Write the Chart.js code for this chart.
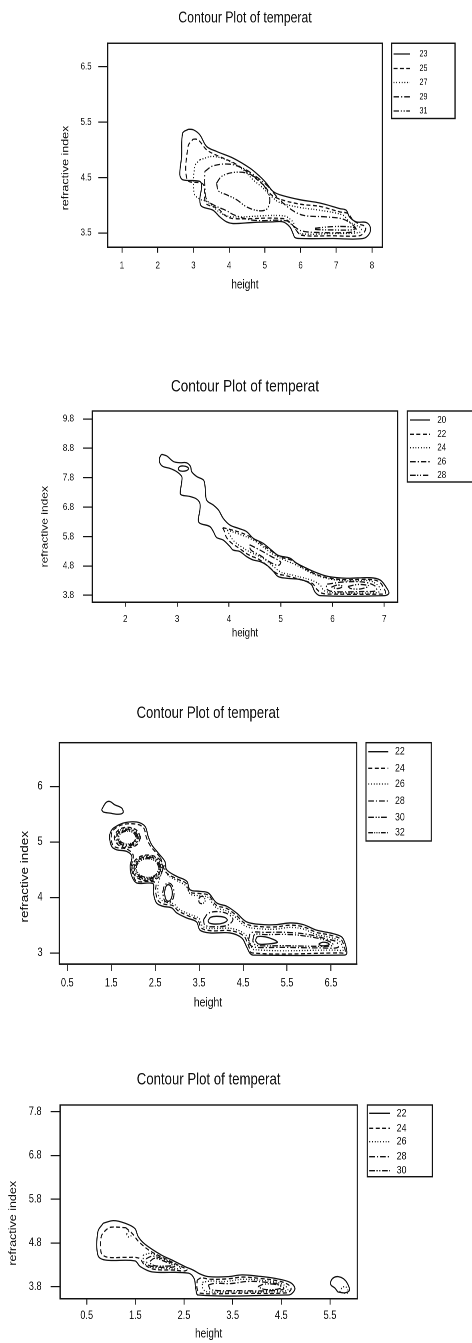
<!DOCTYPE html>
<html>
<head>
<meta charset="utf-8">
<script src="https://cdn.jsdelivr.net/npm/chart.js@4.4.1/dist/chart.umd.min.js"></script>
<style>
html, body { margin: 0; padding: 0; background: #fff; width: 472px; height: 1343px; overflow: hidden; }
.panel { position: absolute; left: 0; transform: scaleX(0.8); transform-origin: 0 0; }
.panel canvas { display: block; }
</style>
</head>
<body>
<div class="panel" style="top:0px"><canvas id="c1" width="590" height="320"></canvas></div>
<div class="panel" style="top:320px"><canvas id="c2" width="590" height="325"></canvas></div>
<div class="panel" style="top:645px"><canvas id="c3" width="590" height="370"></canvas></div>
<div class="panel" style="top:1015px"><canvas id="c4" width="590" height="328"></canvas></div>
<script>
// ---- panel 1 ----
const p1Levels = [23, 25, 27, 29, 31];
const p1XTicks = [1, 2, 3, 4, 5, 6, 7, 8];
const p1YTicks = [3.5, 4.5, 5.5, 6.5];
const p1C23 = [[[2.86,5.37],[3.0,5.36],[3.18,5.27],[3.37,5.06],[3.65,4.97],[4.11,4.85],[4.58,4.67],[4.86,4.52],[5.04,4.40],[5.23,4.25],[5.42,4.19],[5.98,4.10],[6.54,4.04],[7.10,3.94],[7.28,3.91],[7.37,3.79],[7.56,3.70],[7.84,3.69],[7.95,3.61],[7.93,3.49],[7.75,3.40],[6.91,3.40],[5.98,3.40],[5.84,3.42],[5.79,3.49],[5.70,3.61],[5.51,3.70],[5.23,3.70],[4.67,3.69],[4.11,3.67],[3.93,3.70],[3.74,3.79],[3.55,3.91],[3.23,3.98],[3.18,4.10],[3.23,4.34],[3.18,4.43],[2.70,4.46],[2.62,4.55],[2.67,4.88],[2.70,5.30]]];
const p1C25 = [[[2.99,5.19],[3.09,5.19],[3.18,5.15],[3.37,5.0],[3.65,4.90],[4.11,4.77],[4.49,4.61],[4.77,4.47],[5.0,4.34],[5.18,4.19],[5.42,4.11],[5.98,4.02],[6.54,3.98],[7.10,3.88],[7.33,3.85],[7.47,3.73],[7.65,3.66],[7.82,3.61],[7.79,3.52],[7.65,3.45],[6.91,3.45],[6.02,3.46],[5.88,3.55],[5.74,3.67],[5.51,3.76],[4.11,3.76],[3.88,3.82],[3.69,3.94],[3.37,4.02],[3.32,4.10],[3.27,4.38],[2.83,4.46],[2.85,5.06]]];
const p1C27 = [[[3.18,4.82],[3.55,4.88],[4.02,4.79],[4.39,4.64],[4.67,4.46],[4.95,4.31],[5.18,4.16],[5.42,4.05],[5.98,3.96],[6.54,3.91],[7.19,3.82],[7.37,3.70],[7.56,3.64],[7.70,3.58],[7.65,3.51],[6.91,3.49],[5.98,3.49],[5.85,3.58],[5.79,3.70],[5.51,3.81],[4.11,3.79],[3.79,3.85],[3.37,4.07],[3.18,4.11],[3.02,4.22],[3.04,4.70]]];
const p1C29 = [[[3.32,4.61],[3.55,4.71],[4.02,4.74],[4.44,4.65],[4.81,4.49],[5.09,4.34],[5.37,4.13],[5.70,3.94],[6.07,3.82],[6.72,3.79],[7.19,3.75],[7.47,3.64],[7.56,3.55],[7.37,3.51],[6.44,3.51],[6.02,3.54],[5.79,3.63],[5.60,3.72],[4.67,3.73],[4.16,3.82],[3.93,3.90],[3.55,4.01],[3.37,4.10],[3.32,4.34]]];
const p1C31 = [
  [[3.65,4.40],[3.79,4.52],[4.11,4.59],[4.49,4.58],[4.80,4.47],[5.0,4.33],[5.14,4.12],[5.07,3.94],[4.85,3.90],[4.49,3.97],[4.21,4.10],[3.93,4.19],[3.70,4.26]],
  [[6.4,3.585],[6.9,3.615],[7.4,3.61],[7.55,3.58],[7.4,3.555],[6.9,3.555],[6.4,3.565]]
];

// ---- panel 2 ----
const p2Levels = [20, 22, 24, 26, 28];
const p2XTicks = [2, 3, 4, 5, 6, 7];
const p2YTicks = [3.8, 4.8, 5.8, 6.8, 7.8, 8.8, 9.8];
const p2C20 = [
  [[2.70,8.60],[2.80,8.54],[2.93,8.35],[3.06,8.31],[3.18,8.31],[3.26,8.18],[3.28,8.01],[3.38,7.84],[3.51,7.72],[3.54,7.50],[3.57,7.04],[3.70,6.87],[3.80,6.70],[3.89,6.42],[4.02,6.19],[4.18,6.08],[4.34,5.97],[4.47,5.74],[4.66,5.57],[4.82,5.34],[4.95,5.16],[5.18,5.06],[5.31,4.89],[5.50,4.72],[5.69,4.57],[5.92,4.44],[6.27,4.38],[6.72,4.40],[6.92,4.32],[7.05,4.04],[7.09,3.87],[7.01,3.79],[5.76,3.79],[5.66,3.92],[5.60,4.15],[5.50,4.27],[5.37,4.34],[5.11,4.38],[4.95,4.44],[4.86,4.61],[4.73,4.83],[4.60,4.95],[4.47,5.00],[4.34,5.12],[4.21,5.29],[4.08,5.34],[4.02,5.46],[3.89,5.68],[3.76,5.77],[3.70,5.97],[3.63,6.14],[3.44,6.25],[3.41,6.36],[3.44,6.70],[3.44,6.93],[3.38,7.07],[3.25,7.16],[3.09,7.21],[3.06,7.27],[3.09,7.67],[3.09,7.84],[2.99,8.01],[2.86,8.12],[2.73,8.18],[2.67,8.29],[2.66,8.46]],
  [[3.02,8.11],[3.05,8.18],[3.12,8.20],[3.19,8.17],[3.22,8.11],[3.18,8.04],[3.10,8.02],[3.04,8.05]]
];
const p2C22 = [[[3.88,6.10],[4.0,6.05],[4.2,5.95],[4.4,5.80],[4.6,5.58],[4.8,5.33],[5.0,5.10],[5.2,5.00],[5.4,4.78],[5.7,4.50],[6.0,4.37],[6.3,4.33],[6.7,4.34],[6.9,4.26],[7.0,4.02],[7.02,3.87],[6.9,3.84],[6.0,3.84],[5.8,3.87],[5.7,4.0],[5.62,4.19],[5.45,4.30],[5.1,4.47],[4.93,4.54],[4.8,4.72],[4.6,5.0],[4.38,5.18],[4.2,5.40],[4.05,5.58],[3.95,5.78],[3.92,5.95]]];
const p2C24 = [[[3.97,6.02],[4.2,5.88],[4.45,5.70],[4.65,5.46],[4.85,5.2],[5.05,5.02],[5.3,4.83],[5.6,4.55],[5.9,4.37],[6.3,4.29],[6.7,4.30],[6.85,4.18],[6.93,3.98],[6.85,3.89],[6.0,3.89],[5.84,3.96],[5.76,4.15],[5.6,4.31],[5.2,4.50],[5.0,4.59],[4.85,4.80],[4.65,5.07],[4.42,5.26],[4.25,5.44],[4.1,5.64],[4.02,5.84]]];
const p2C26 = [
  [[4.40,5.52],[4.6,5.34],[4.82,5.12],[5.0,4.93],[4.96,4.82],[4.82,4.9],[4.62,5.14],[4.42,5.35]],
  [[5.9,4.18],[6.2,4.25],[6.6,4.25],[6.82,4.12],[6.85,3.96],[6.6,3.93],[6.0,3.93],[5.88,4.03]]
];
const p2C28 = [
  [[6.3,4.1],[6.5,4.17],[6.7,4.12],[6.55,4.02],[6.35,4.03]],
  [[5.98,4.08],[6.1,4.15],[6.2,4.1],[6.1,4.03]]
];

// ---- panel 3 ----
const p3Levels = [22, 24, 26, 28, 30, 32];
const p3XTicks = [0.5, 1.5, 2.5, 3.5, 4.5, 5.5, 6.5];
const p3YTicks = [3, 4, 5, 6];
const p3C22 = [
  [[1.28,5.58],[1.38,5.71],[1.47,5.73],[1.58,5.67],[1.74,5.61],[1.77,5.53],[1.66,5.50],[1.47,5.52],[1.32,5.54]],
  [[1.49,5.19],[1.55,5.25],[1.77,5.34],[2.08,5.36],[2.27,5.28],[2.34,5.10],[2.42,4.95],[2.57,4.80],[2.72,4.65],[2.76,4.50],[2.99,4.38],[3.22,4.29],[3.29,4.14],[3.52,4.11],[3.71,4.08],[3.90,3.90],[4.13,3.84],[4.35,3.72],[4.58,3.56],[4.96,3.51],[5.26,3.51],[5.57,3.54],[5.87,3.51],[6.17,3.41],[6.48,3.36],[6.74,3.29],[6.82,3.17],[6.86,2.99],[6.80,2.96],[4.73,2.96],[4.66,2.99],[4.58,3.11],[4.47,3.27],[4.20,3.36],[3.75,3.36],[3.52,3.41],[3.44,3.56],[3.22,3.63],[2.99,3.72],[2.88,3.81],[2.68,3.84],[2.53,3.90],[2.46,4.08],[2.46,4.24],[2.34,4.26],[2.08,4.26],[1.97,4.38],[1.93,4.56],[1.97,4.74],[1.85,4.83],[1.62,4.86],[1.51,4.92],[1.46,5.10]],
  [[2.71,4.08],[2.74,4.19],[2.80,4.23],[2.86,4.19],[2.89,4.08],[2.86,3.97],[2.80,3.93],[2.74,3.97]],
  [[3.7,3.58],[3.76,3.64],[3.9,3.66],[4.08,3.64],[4.14,3.59],[4.05,3.54],[3.88,3.52],[3.73,3.54]],
  [[4.78,3.22],[4.82,3.29],[5.0,3.29],[5.2,3.24],[5.28,3.19],[5.05,3.16],[4.85,3.16]],
  [[6.22,3.16],[6.3,3.19],[6.42,3.18],[6.46,3.15],[6.38,3.13],[6.27,3.13]]
];
const p3C24 = [
  [[2.62,4.72],[2.74,4.46],[2.98,4.34],[3.21,4.25],[3.28,4.10],[3.52,4.07],[3.71,4.04],[3.89,3.86],[4.13,3.80],[4.34,3.68],[4.57,3.52],[4.96,3.47],[5.26,3.47],[5.57,3.50],[5.87,3.47],[6.17,3.37],[6.48,3.32],[6.72,3.25],[6.79,3.14],[6.82,3.01],[6.7,3.0],[4.70,3.0],[4.62,3.14],[4.51,3.31],[4.22,3.40],[3.77,3.40],[3.55,3.45],[3.47,3.59],[3.25,3.67],[3.02,3.76],[2.91,3.85],[2.70,3.88],[2.57,3.94],[2.51,4.10],[2.51,4.26],[2.36,4.29],[2.08,4.29],[2.0,4.40],[1.96,4.56],[2.0,4.76],[1.86,4.87],[1.62,4.90],[1.53,4.95],[1.50,5.10],[1.53,5.20],[1.75,5.31],[2.08,5.32],[2.24,5.25],[2.30,5.08],[2.39,4.93],[2.53,4.80]],
  [[2.17,5.08],[2.082,5.211],[1.87,5.265],[1.658,5.211],[1.57,5.08],[1.658,4.949],[1.87,4.895],[2.082,4.949]],
  [[2.69,4.53],[2.585,4.696],[2.33,4.765],[2.075,4.696],[1.97,4.53],[2.075,4.364],[2.33,4.30],[2.585,4.364]]
];
const p3C26 = [
  [[2.70,4.58],[2.77,4.42],[3.0,4.30],[3.2,4.21],[3.30,4.06],[3.52,4.03],[3.70,4.00],[3.88,3.82],[4.12,3.76],[4.33,3.64],[4.56,3.48],[4.96,3.43],[5.26,3.43],[5.57,3.46],[5.87,3.43],[6.17,3.33],[6.48,3.28],[6.68,3.22],[6.76,3.12],[6.78,3.05],[6.6,3.05],[4.74,3.06],[4.66,3.18],[4.54,3.34],[4.24,3.44],[3.78,3.44],[3.58,3.48],[3.5,3.62],[3.27,3.70],[3.04,3.79],[2.93,3.88],[2.72,3.92],[2.61,3.98],[2.56,4.12],[2.58,4.28],[2.64,4.42]],
  [[2.145,5.08],[2.064,5.198],[1.87,5.247],[1.676,5.198],[1.595,5.08],[1.676,4.962],[1.87,4.913],[2.064,4.962]],
  [[2.665,4.53],[2.567,4.686],[2.33,4.75],[2.093,4.686],[1.995,4.53],[2.093,4.374],[2.33,4.315],[2.567,4.374]]
];
const p3C28 = [
  [[2.12,5.08],[2.047,5.186],[1.87,5.23],[1.693,5.186],[1.62,5.08],[1.693,4.974],[1.87,4.93],[2.047,4.974]],
  [[2.64,4.53],[2.549,4.675],[2.33,4.735],[2.111,4.675],[2.02,4.53],[2.111,4.385],[2.33,4.33],[2.549,4.385]],
  [[2.67,4.08],[2.71,4.21],[2.80,4.26],[2.89,4.21],[2.93,4.08],[2.89,3.95],[2.80,3.91],[2.71,3.95]],
  [[3.6,3.6],[3.72,3.72],[4.0,3.74],[4.2,3.68],[4.27,3.6],[4.15,3.5],[3.85,3.47],[3.63,3.5]],
  [[4.62,3.22],[4.68,3.36],[5.0,3.37],[5.5,3.37],[6.0,3.33],[6.4,3.25],[6.62,3.2],[6.66,3.1],[6.3,3.09],[5.4,3.1],[4.8,3.1],[4.66,3.14]]
];
const p3C30 = [
  [[2.095,5.08],[2.029,5.173],[1.87,5.212],[1.711,5.173],[1.645,5.08],[1.711,4.987],[1.87,4.948],[2.029,4.987]],
  [[2.615,4.53],[2.532,4.664],[2.33,4.72],[2.128,4.664],[2.045,4.53],[2.128,4.396],[2.33,4.345],[2.532,4.396]],
  [[4.72,3.22],[4.76,3.33],[5.0,3.33],[5.6,3.33],[6.1,3.28],[6.45,3.21],[6.55,3.15],[6.45,3.12],[5.4,3.13],[4.85,3.13],[4.75,3.16]]
];
const p3C32 = [
  [[2.07,5.08],[2.011,5.161],[1.87,5.195],[1.729,5.161],[1.67,5.08],[1.729,4.999],[1.87,4.965],[2.011,4.999]],
  [[2.59,4.53],[2.514,4.65],[2.33,4.70],[2.146,4.65],[2.07,4.53],[2.146,4.41],[2.33,4.36],[2.514,4.41]],
  [[3.5,4.0],[3.58,4.02],[3.64,3.95],[3.58,3.89],[3.5,3.91]]
];

// ---- panel 4 ----
const p4Levels = [22, 24, 26, 28, 30];
const p4XTicks = [0.5, 1.5, 2.5, 3.5, 4.5, 5.5];
const p4YTicks = [3.8, 4.8, 5.8, 6.8, 7.8];
const p4C22 = [
  [[0.84,5.25],[1.05,5.31],[1.29,5.25],[1.49,5.13],[1.56,4.94],[1.70,4.77],[2.04,4.52],[2.25,4.41],[2.52,4.26],[2.69,4.18],[2.83,4.09],[3.0,4.03],[3.41,4.03],[3.69,4.07],[4.03,4.04],[4.37,3.99],[4.68,3.90],[4.78,3.76],[4.70,3.63],[4.58,3.61],[2.79,3.61],[2.74,3.76],[2.71,3.98],[2.59,4.11],[1.84,4.14],[1.60,4.26],[1.49,4.39],[0.88,4.41],[0.73,4.52],[0.73,5.06]],
  [[5.66,3.68],[5.6,3.77],[5.52,3.84],[5.52,3.93],[5.58,4.01],[5.67,4.03],[5.78,3.98],[5.86,3.87],[5.9,3.72],[5.8,3.66]]
];
const p4C24 = [
  [[1.3,5.15],[1.45,5.0],[1.56,4.84],[1.80,4.62],[2.15,4.42],[2.42,4.27],[2.56,4.19],[2.5,4.16],[2.3,4.18],[1.88,4.2],[1.68,4.31],[1.58,4.45],[1.3,4.47],[0.95,4.47],[0.82,4.53],[0.79,4.62],[0.8,4.95],[0.9,5.1],[1.0,5.16]],
  [[2.77,3.95],[2.85,4.0],[3.05,3.97],[3.4,3.98],[3.7,4.02],[4.05,3.99],[4.4,3.94],[4.64,3.85],[4.7,3.74],[4.6,3.66],[3.6,3.65],[2.84,3.65],[2.77,3.75]]
];
const p4C26 = [
  [[1.32,5.0],[1.36,5.06],[1.42,5.03],[1.41,4.96],[1.35,4.94]],
  [[1.66,4.52],[1.82,4.56],[2.1,4.43],[2.35,4.29],[2.44,4.23],[2.35,4.21],[1.95,4.23],[1.75,4.27],[1.67,4.38]],
  [[2.88,3.9],[3.05,3.93],[3.35,3.92],[3.7,3.97],[4.05,3.95],[4.4,3.9],[4.58,3.82],[4.63,3.72],[4.3,3.68],[3.5,3.68],[2.95,3.69],[2.88,3.78]],
  [[5.7,3.68],[5.75,3.78],[5.82,3.8],[5.87,3.72],[5.85,3.65]]
];
const p4C28 = [
  [[1.72,4.44],[1.86,4.50],[2.12,4.40],[2.33,4.28],[2.25,4.245],[1.95,4.25],[1.76,4.3]],
  [[3.0,3.84],[3.15,3.88],[3.45,3.87],[3.8,3.92],[4.2,3.9],[4.48,3.84],[4.55,3.75],[4.3,3.71],[3.6,3.71],[3.05,3.73]]
];
const p4C30 = [
  [[1.8,4.38],[1.9,4.45],[2.12,4.37],[2.26,4.29],[2.1,4.27],[1.9,4.28],[1.82,4.32]],
  [[4.02,3.80],[4.15,3.86],[4.45,3.84],[4.5,3.78],[4.4,3.74],[4.15,3.74]]
];

const titleText = 'Contour Plot of temperat';
const xTitleText = 'height';
const yTitleText = 'refractive index';
const fontFamily = '"Liberation Sans", Arial, sans-serif';
// solid, dashed, dotted, dash-dot, dash-dot-dot, dash-many-dots
const lineStyles = [[], [5, 3], [1.2, 2.2], [7, 2.5, 1.5, 2.5], [7, 2, 1.5, 2, 1.5, 2], [6, 1.5, 1.2, 1.5, 1.2, 1.5, 1.2, 1.5]];

Chart.defaults.font.family = fontFamily;
Chart.defaults.color = '#111';

const framePlugin = {
  id: 'frame',
  afterDraw(chart, args, o) {
    const ctx = chart.ctx, a = chart.chartArea;
    ctx.save();
    ctx.strokeStyle = '#111';
    ctx.lineWidth = 1.4;
    ctx.setLineDash([]);
    ctx.strokeRect(a.left, a.top, a.right - a.left, a.bottom - a.top);
    ctx.strokeRect(o.legL, a.top, o.legR - o.legL, o.legB - a.top);

    ctx.fillStyle = '#111';
    ctx.font = o.legSize + 'px ' + fontFamily;
    ctx.textAlign = 'left';
    ctx.textBaseline = 'middle';
    o.levels.forEach((lev, i) => {
      const y = o.rows[i];
      ctx.lineWidth = 1.3;
      ctx.setLineDash(lineStyles[i]);
      ctx.beginPath();
      ctx.moveTo(o.lineX0, y);
      ctx.lineTo(o.lineX1, y);
      ctx.stroke();
      ctx.fillText(String(lev), o.textX, y);
    });
    ctx.restore();

    ctx.save();
    ctx.fillStyle = '#111';
    ctx.font = o.yTitleSize + 'px ' + fontFamily;
    ctx.textAlign = 'center';
    ctx.textBaseline = 'middle';
    ctx.translate(o.yTitleX, o.yTitleY);
    ctx.rotate(-Math.PI / 2);
    ctx.fillText(yTitleText, 0, 0);
    ctx.restore();
  }
};

function toDatasets(lines) {
  const out = [];
  lines.forEach((loops, i) => {
    loops.forEach(loop => {
      const pts = loop.map(p => ({x: p[0], y: p[1]}));
      pts.push({x: loop[0][0], y: loop[0][1]});
      out.push({
        data: pts, showLine: true, fill: false,
        borderColor: '#111', borderWidth: 1.3, borderDash: lineStyles[i],
        pointRadius: 0, pointHoverRadius: 0, tension: 0.35
      });
    });
  });
  return out;
}

function makePanel(p) {
  new Chart(document.getElementById(p.id), {
    type: 'scatter',
    data: {datasets: toDatasets(p.lines)},
    plugins: [framePlugin],
    options: {
      responsive: false,
      animation: false,
      devicePixelRatio: 2,
      events: [],
      layout: {padding: {left: 0, right: 590 - p.boxR, top: 0, bottom: p.padB}},
      plugins: {
        legend: {display: false},
        tooltip: {enabled: false},
        title: {
          display: true, text: titleText, fullSize: false, color: '#111',
          font: {size: p.titleSize, weight: 'normal'},
          padding: {top: p.titlePadT, bottom: p.titlePadB}
        },
        frame: p.frame
      },
      scales: {
        x: {
          type: 'linear', position: 'bottom', min: p.xMin, max: p.xMax,
          afterBuildTicks: s => { s.ticks = p.xTicks.map(v => ({value: v})); },
          afterFit: s => { s.height = p.xScaleH; },
          grid: {drawOnChartArea: false, drawTicks: true, tickLength: p.xTickLen, color: '#111', lineWidth: 1.2},
          border: {display: true, color: '#111', width: 1.4},
          ticks: {autoSkip: false, maxRotation: 0, padding: p.xTickPad, color: '#111', font: {size: p.tickSize}, callback: v => String(v)},
          title: {display: true, text: xTitleText, color: '#111', font: {size: p.xTitleSize}, padding: 0}
        },
        y: {
          type: 'linear', position: 'left', min: p.yMin, max: p.yMax,
          afterBuildTicks: s => { s.ticks = p.yTicks.map(v => ({value: v})); },
          afterFit: s => { s.width = p.boxL; },
          grid: {drawOnChartArea: false, drawTicks: true, tickLength: 11.7, color: '#111', lineWidth: 1.2},
          border: {display: true, color: '#111', width: 1.4},
          ticks: {autoSkip: false, padding: p.yTickPad, color: '#111', font: {size: p.tickSize}, callback: v => String(v)}
        }
      }
    }
  });
}

makePanel({
  id: 'c1', lines: [p1C23, p1C25, p1C27, p1C29, p1C31], xTicks: p1XTicks, yTicks: p1YTicks,
  xMin: 0.6, xMax: 8.29, yMin: 3.242, yMax: 6.92,
  boxL: 134.6, boxR: 477.9, padB: 27.5, xScaleH: 45.2,
  titleSize: 15.3, titlePadT: 9.3, titlePadB: 15.6,
  tickSize: 10, xTickLen: 5.5, xTickPad: 6.9, yTickPad: 8.3, xTitleSize: 12.5,
  frame: {levels: p1Levels, legL: 489.6, legR: 568.8, legB: 118.5, rows: [54, 68.5, 82.5, 96.8, 111],
    lineX0: 491.9, lineX1: 512.5, textX: 524.4, legSize: 9, yTitleX: 82.1, yTitleY: 168, yTitleSize: 12.5}
});

makePanel({
  id: 'c2', lines: [p2C20, p2C22, p2C24, p2C26, p2C28], xTicks: p2XTicks, yTicks: p2YTicks,
  xMin: 1.363, xMax: 7.259, yMin: 3.562, yMax: 10.07,
  boxL: 115.4, boxR: 497.1, padB: 4.8, xScaleH: 37.9,
  titleSize: 17, titlePadT: 56.5, titlePadB: 14.1,
  tickSize: 10.2, xTickLen: 4.5, xTickPad: 6.4, yTickPad: 11.1, xTitleSize: 12,
  frame: {levels: p2Levels, legL: 509.1, legR: 600, legB: 162, rows: [100, 114.3, 127.7, 141.7, 155.3],
    lineX0: 512.5, lineX1: 537.5, textX: 546.6, legSize: 10, yTitleX: 56.3, yTitleY: 206.7, yTitleSize: 12}
});

makePanel({
  id: 'c3', lines: [p3C22, p3C24, p3C26, p3C28, p3C30, p3C32], xTicks: p3XTicks, yTicks: p3YTicks,
  xMin: 0.318, xMax: 7.085, yMin: 2.80, yMax: 6.79,
  boxL: 74.1, boxR: 445.9, padB: 4.2, xScaleH: 46.8,
  titleSize: 16.4, titlePadT: 58.5, titlePadB: 19.5,
  tickSize: 11.5, xTickLen: 7, xTickPad: 5.4, yTickPad: 9.1, xTitleSize: 13,
  frame: {levels: p3Levels, legL: 457.5, legR: 539.1, legB: 196, rows: [106.7, 123.3, 139, 156, 172.3, 187.7],
    lineX0: 460.4, lineX1: 485.4, textX: 493.8, legSize: 11, yTitleX: 31.3, yTitleY: 231.7, yTitleSize: 13.5}
});

makePanel({
  id: 'c4', lines: [p4C22, p4C24, p4C26, p4C28, p4C30], xTicks: p4XTicks, yTicks: p4YTicks,
  xMin: -0.049, xMax: 6.061, yMin: 3.526, yMax: 7.953,
  boxL: 75, boxR: 446.6, padB: 1.5, xScaleH: 42.8,
  titleSize: 16.5, titlePadT: 55.1, titlePadB: 15.1,
  tickSize: 11.5, xTickLen: 6, xTickPad: 4.4, yTickPad: 11.3, xTitleSize: 12.5,
  frame: {levels: p4Levels, legL: 459.1, legR: 540.4, legB: 161.7, rows: [98.3, 113.3, 126.7, 141.7, 155.7],
    lineX0: 461.6, lineX1: 487.5, textX: 495.9, legSize: 11, yTitleX: 16.6, yTitleY: 208.3, yTitleSize: 12.5}
});
</script>
</body>
</html>
